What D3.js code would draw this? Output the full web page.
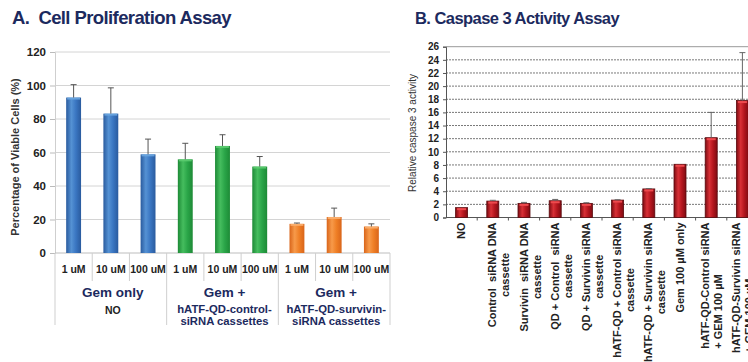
<!DOCTYPE html>
<html><head><meta charset="utf-8">
<script src="https://cdn.jsdelivr.net/npm/d3@7"></script>
<style>
html,body{margin:0;padding:0;background:#fff;}
svg{display:block;font-family:"Liberation Sans",Arial,sans-serif;}
</style></head>
<body>
<svg id="c" width="748" height="362"></svg>
<script>
// ---------- Panel A data ----------
const aConcLabels = ["1 uM","10 uM","100 uM","1 uM","10 uM","100 uM","1 uM","10 uM","100 uM"];
const aValues = [92.8, 83.2, 58.9, 55.9, 63.9, 51.6, 17.4, 21.5, 15.8];
const aErrors = [7.7, 15.4, 9.1, 9.6, 6.7, 6.0, 0.5, 5.3, 1.6];
const aGroupIndex = [0,0,0,1,1,1,2,2,2];
const aGroupTitles = ["Gem only","Gem +","Gem +"];
const aGroupSubs = [["NO"],["hATF-QD-control-","siRNA cassettes"],["hATF-QD-survivin-","siRNA cassettes"]];
const aTicks = [0,20,40,60,80,100,120];

// ---------- Panel B data ----------
const bCategories = [
  ["NO"],
  ["Control  siRNA DNA","cassette"],
  ["Survivin  siRNA DNA","cassette"],
  ["QD + Control  siRNA","cassette"],
  ["QD + Survivin siRNA","cassette"],
  ["hATF-QD + Control siRNA","cassette"],
  ["hATF-QD + Survivin siRNA","cassette"],
  ["Gem 100 \u00B5M only"],
  ["hATF-QD-Control siRNA","+ GEM 100 \u00B5M"],
  ["hATF-QD-Survivin siRNA","+ GEM 100 \u00B5M"]
];
const bValues = [1.5, 2.5, 2.15, 2.55, 2.15, 2.65, 4.35, 8.1, 12.15, 17.8];
const bErrors = [0, 0.12, 0.15, 0.2, 0.1, 0.05, 0.05, 0, 3.85, 7.3];
const bTicks = [0,2,4,6,8,10,12,14,16,18,20,22,24,26];

const svg = d3.select("#c");
const defs = svg.append("defs");
function grad(id, edge, mid, light){
  const g = defs.append("linearGradient").attr("id",id).attr("x1","0").attr("x2","1").attr("y1","0").attr("y2","0");
  g.append("stop").attr("offset","0%").attr("stop-color",edge);
  g.append("stop").attr("offset","35%").attr("stop-color",light);
  g.append("stop").attr("offset","65%").attr("stop-color",mid);
  g.append("stop").attr("offset","100%").attr("stop-color",edge);
}
grad("gBlue","#2a5b9e","#3a76c2","#5592d4");
grad("gGreen","#1d8a36","#2aa548","#45bd5e");
grad("gOrange","#d9651a","#ef7f26","#f79a4a");
grad("gRed","#7e0c12","#b4161e","#d83036");
const aFills = ["url(#gBlue)","url(#gGreen)","url(#gOrange)"];
const aCaps = ["#6aa6e0","#5ccc70","#fbb070"];
const navy = "#1c2a5e";

// ================= PANEL A =================
svg.append("text").attr("x",12).attr("y",24).attr("fill",navy)
  .attr("font-size",18.5).attr("font-weight","bold").attr("letter-spacing",-0.6).attr("xml:space","preserve")
  .text("A.  Cell Proliferation Assay");

const ax = d3.scaleBand().domain(d3.range(aValues.length)).range([55,390]).paddingInner(0.6).paddingOuter(0.3);
const ay = d3.scaleLinear().domain([0,120]).range([253,52]);
const gA = svg.append("g");

gA.selectAll("line.grid").data(aTicks.filter(t=>t>0)).join("line")
  .attr("x1",55).attr("x2",390).attr("y1",d=>ay(d)).attr("y2",d=>ay(d))
  .attr("stroke","#d4d4d4").attr("stroke-width",1);

const yAxA = gA.append("g").attr("transform","translate(55,0)")
  .call(d3.axisLeft(ay).tickValues(aTicks).tickSize(5).tickPadding(4));
yAxA.select(".domain").attr("stroke","#cfcfcf");
yAxA.selectAll(".tick line").attr("stroke","#bbb");
yAxA.selectAll(".tick text").attr("font-size",11.5).attr("font-weight","bold").attr("fill","#222")
  .attr("font-family","Liberation Sans, Arial, sans-serif");

gA.append("line").attr("x1",55).attr("x2",390).attr("y1",ay(0)).attr("y2",ay(0)).attr("stroke","#bdbdbd");

gA.selectAll("rect.bar").data(aValues).join("rect")
  .attr("x",(d,i)=>ax(i)).attr("width",ax.bandwidth())
  .attr("y",d=>ay(d)).attr("height",d=>ay(0)-ay(d))
  .attr("fill",(d,i)=>aFills[aGroupIndex[i]]);
gA.selectAll("rect.cap").data(aValues).join("rect")
  .attr("x",(d,i)=>ax(i)+1).attr("width",ax.bandwidth()-2)
  .attr("y",d=>ay(d)).attr("height",2)
  .attr("fill",(d,i)=>aCaps[aGroupIndex[i]]).attr("opacity",0.9);

const eA = gA.selectAll("g.err").data(aValues).join("g");
eA.append("line").attr("x1",(d,i)=>ax(i)+ax.bandwidth()/2).attr("x2",(d,i)=>ax(i)+ax.bandwidth()/2)
  .attr("y1",d=>ay(d)).attr("y2",(d,i)=>ay(d+aErrors[i])).attr("stroke","#555").attr("stroke-width",1);
eA.append("line").attr("x1",(d,i)=>ax(i)+ax.bandwidth()/2-3).attr("x2",(d,i)=>ax(i)+ax.bandwidth()/2+3)
  .attr("y1",(d,i)=>ay(d+aErrors[i])).attr("y2",(d,i)=>ay(d+aErrors[i])).attr("stroke","#555").attr("stroke-width",1);

const stepA = ax.step();
const x0A = 55;
d3.range(aValues.length+1).forEach(i=>{
  const x = x0A + i*stepA;
  const isGroup = (i%3===0);
  gA.append("line").attr("x1",x).attr("x2",x).attr("y1",ay(0)).attr("y2",isGroup?325:281)
    .attr("stroke","#cfcfcf").attr("stroke-width",1);
});
gA.selectAll("text.conc").data(aConcLabels).join("text")
  .attr("x",(d,i)=>ax(i)+ax.bandwidth()/2).attr("y",273).attr("text-anchor","middle")
  .attr("font-size",10.5).attr("font-weight","bold").attr("fill","#222").text(d=>d);
aGroupTitles.forEach((t,gi)=>{
  const cx = x0A + (gi*3+1.5)*stepA + 2;
  gA.append("text").attr("x",cx).attr("y",297).attr("text-anchor","middle")
    .attr("font-size",13.5).attr("font-weight","bold").attr("fill",navy).text(t);
  const subs = aGroupSubs[gi];
  subs.forEach((s,si)=>{
    gA.append("text").attr("x",cx).attr("y", subs.length===1 ? 314 : 313 + si*12)
      .attr("text-anchor","middle").attr("font-size",subs.length===1?10.5:11.3)
      .attr("font-weight","bold").attr("fill", subs.length===1?"#222":navy).text(s);
  });
});
svg.append("text").attr("transform","translate(19,157) rotate(-90)").attr("text-anchor","middle")
  .attr("font-size",11).attr("font-weight","bold").attr("fill","#333")
  .text("Percentage of Viable Cells (%)");

// ================= PANEL B =================
svg.append("text").attr("x",415).attr("y",24).attr("fill",navy)
  .attr("font-size",16.5).attr("font-weight","bold").attr("letter-spacing",-0.55).text("B. Caspase 3 Activity Assay");

const bx = d3.scaleBand().domain(d3.range(bValues.length)).range([446,758]).paddingInner(0.615).paddingOuter(0.3075);
const by = d3.scaleLinear().domain([0,26]).range([217.5,46.7]);
const gB = svg.append("g");

gB.selectAll("line.grid").data(bTicks.filter(t=>t>0)).join("line")
  .attr("x1",446).attr("x2",758).attr("y1",d=>by(d)).attr("y2",d=>by(d))
  .attr("stroke",d=>d===26?"#999":"#555").attr("stroke-width",d=>d===26?1:0.8)
  .attr("stroke-dasharray",d=>d===26?null:"2,1");

const yAxB = gB.append("g").attr("transform","translate(446,0)")
  .call(d3.axisLeft(by).tickValues(bTicks).tickSize(3).tickPadding(4));
yAxB.select(".domain").attr("stroke","#555");
yAxB.selectAll(".tick line").attr("stroke","#555");
yAxB.selectAll(".tick text").attr("font-size",10).attr("font-weight","bold").attr("fill","#222")
  .attr("font-family","Liberation Sans, Arial, sans-serif");

gB.append("line").attr("x1",446).attr("x2",758).attr("y1",by(0)).attr("y2",by(0)).attr("stroke","#555");
d3.range(1,bValues.length+1).forEach(i=>{
  const x = 446 + i*bx.step();
  gB.append("line").attr("x1",x).attr("x2",x).attr("y1",by(0)).attr("y2",by(0)+3).attr("stroke","#555");
});

gB.selectAll("rect.bar").data(bValues).join("rect")
  .attr("x",(d,i)=>bx(i)).attr("width",bx.bandwidth())
  .attr("y",d=>by(d)).attr("height",d=>by(0)-by(d))
  .attr("fill","url(#gRed)").attr("stroke","#5a0a0e").attr("stroke-width",0.8);
gB.selectAll("rect.cap").data(bValues).join("rect")
  .attr("x",(d,i)=>bx(i)+1.5).attr("width",bx.bandwidth()-3)
  .attr("y",d=>by(d)+0.5).attr("height",2)
  .attr("fill","#ee4a4e");

const bIdx = d3.range(bValues.length).filter(i=>bErrors[i]>0);
const eB = gB.selectAll("g.err").data(bIdx).join("g");
eB.append("line").attr("x1",i=>bx(i)+bx.bandwidth()/2).attr("x2",i=>bx(i)+bx.bandwidth()/2)
  .attr("y1",i=>by(bValues[i])).attr("y2",i=>by(bValues[i]+bErrors[i])).attr("stroke","#666").attr("stroke-width",1);
eB.append("line").attr("x1",i=>bx(i)+bx.bandwidth()/2-3).attr("x2",i=>bx(i)+bx.bandwidth()/2+3)
  .attr("y1",i=>by(bValues[i]+bErrors[i])).attr("y2",i=>by(bValues[i]+bErrors[i])).attr("stroke","#666").attr("stroke-width",1);

// rotated x labels
bCategories.forEach((lines,i)=>{
  const cx = bx(i)+bx.bandwidth()/2;
  const plusLabel = (lines.length===2 && lines[1].startsWith("+"));
  const shift = plusLabel ? -2.5 : 3.5;
  const g = gB.append("g").attr("transform",`translate(${cx+shift},${by(0)+5}) rotate(-90)`);
  const texts = lines.map((l,li)=>g.append("text").attr("y",li*13).attr("font-size",11)
    .attr("font-weight","bold").attr("fill","#222")
    .attr("xml:space","preserve").text(l));
  const maxLen = d3.max(texts,t=>t.node().getComputedTextLength());
  if (plusLabel) {
    texts.forEach(t=>t.attr("text-anchor","start").attr("x",-maxLen));
  } else {
    texts.forEach(t=>t.attr("text-anchor","middle").attr("x",-maxLen/2));
  }
});

svg.append("text").attr("transform","translate(416,133) rotate(-90)").attr("text-anchor","middle")
  .attr("font-size",10).attr("fill","#333").text("Relative caspase 3 activity");
</script>
</body></html>
